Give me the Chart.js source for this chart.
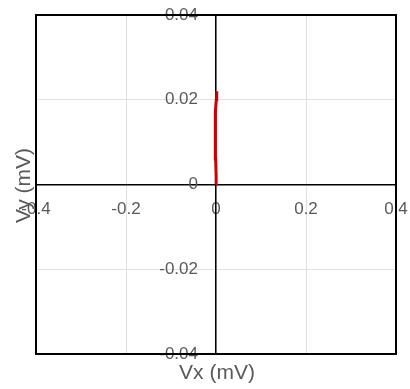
<!DOCTYPE html>
<html>
<head>
<meta charset="utf-8">
<script src="https://cdn.jsdelivr.net/npm/chart.js@4/dist/chart.umd.min.js"></script>
<style>
  html, body { margin: 0; padding: 0; background: #fff; }
  #wrap { width: 410px; height: 389px; }
</style>
</head>
<body>
<div id="wrap"><canvas id="c" width="410" height="389"></canvas></div>
<script>
// Lissajous trace of Vy against Vx (both in mV)
const vx = [0.0000, 0.0003, -0.0008, -0.0015, -0.0018, -0.0012, 0.0006, 0.0016];
const vy = [0.0000, 0.0020, 0.0060, 0.0100, 0.0140, 0.0170, 0.0200, 0.0220];

const xTicks = [-0.4, -0.2, 0, 0.2, 0.4];
const yTicks = [-0.04, -0.02, 0, 0.02, 0.04];

const xTitle = 'Vx (mV)';
const yTitle = 'Vy (mV)';

const points = vx.map((x, i) => ({ x: x, y: vy[i] }));

const tickFont = { family: "'Liberation Sans', Arial, sans-serif", size: 17 };
const textColor = '#595959';

// centred axes take no room in the layout; the plot area is set by layout padding
function noRoom(s) {
  if (s.isHorizontal()) s.height = 0; else s.width = 0;
  s.paddingLeft = s.paddingRight = s.paddingTop = s.paddingBottom = 0;
}

// frame around the plot area and the two axis titles
const framePlugin = {
  id: 'frame',
  afterDraw(chart) {
    const { ctx, chartArea: a } = chart;
    ctx.save();
    ctx.strokeStyle = '#000';
    ctx.lineWidth = 2;
    ctx.strokeRect(a.left, a.top, a.right - a.left, a.bottom - a.top);

    ctx.fillStyle = textColor;
    ctx.font = "21px 'Liberation Sans', Arial, sans-serif";
    ctx.textAlign = 'center';
    ctx.textBaseline = 'middle';
    ctx.fillText(xTitle, (a.left + a.right) / 2 + 1, a.bottom + 19);

    ctx.translate(a.left - 12, (a.top + a.bottom) / 2 + 1);
    ctx.rotate(-Math.PI / 2);
    ctx.fillText(yTitle, 0, 0);
    ctx.restore();
  }
};

new Chart(document.getElementById('c'), {
  type: 'scatter',
  data: {
    datasets: [{
      data: points,
      showLine: true,
      borderColor: '#cc0000',
      backgroundColor: '#cc0000',
      borderWidth: 3,
      pointRadius: 0,
      tension: 0
    }]
  },
  options: {
    responsive: false,
    animation: false,
    devicePixelRatio: 1,
    layout: { padding: { left: 36, right: 14, top: 15, bottom: 35 } },
    plugins: {
      legend: { display: false },
      tooltip: { enabled: false }
    },
    scales: {
      x: {
        type: 'linear',
        position: 'center',
        min: -0.4,
        max: 0.4,
        afterFit: noRoom,
        afterBuildTicks(s) { s.ticks = xTicks.map(v => ({ value: v })); },
        ticks: { color: textColor, font: tickFont, padding: 15, maxRotation: 0, autoSkip: false },
        grid: { color: '#e0e0e0', lineWidth: 1, drawTicks: false },
        border: { color: '#000', width: 1.5 }
      },
      y: {
        type: 'linear',
        position: 'center',
        min: -0.04,
        max: 0.04,
        afterFit: noRoom,
        afterBuildTicks(s) { s.ticks = yTicks.map(v => ({ value: v })); },
        ticks: { color: textColor, font: tickFont, padding: 18, autoSkip: false },
        grid: { color: '#e0e0e0', lineWidth: 1, drawTicks: false },
        border: { color: '#000', width: 1.5 }
      }
    }
  },
  plugins: [framePlugin]
});
</script>
</body>
</html>
